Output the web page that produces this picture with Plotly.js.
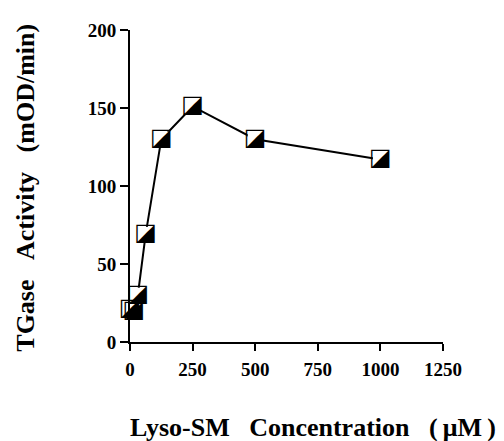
<!DOCTYPE html>
<html>
<head>
<meta charset="utf-8">
<script src="https://cdn.plot.ly/plotly-3.0.1.min.js"></script>
<style>html,body{margin:0;padding:0;background:#fff;}#chart{width:504px;height:441px;}</style>
</head>
<body>
<div id="chart"></div>
<script>
const concentration = [0, 15.6, 31.25, 62.5, 125, 250, 500, 1000];
const activity = [21, 20, 30, 69, 130, 151, 130, 117];
const xTicks = [0, 250, 500, 750, 1000, 1250];
const yTicks = [0, 50, 100, 150, 200];
const xTitle = 'Lyso-SM\u00a0\u00a0\u00a0Concentration\u00a0\u00a0\u00a0(\u2009\u03bcM\u2009)';
const yTitle = 'TGase\u00a0\u00a0\u00a0Activity\u00a0\u00a0\u00a0(mOD/min)';

const font = 'Liberation Serif';
const traces = [
  {
    x: concentration, y: activity, mode: 'lines+markers', type: 'scatter',
    line: {color: '#000', width: 2},
    marker: {symbol: 'square', size: 15, color: '#fff', line: {color: '#fff', width: 0}},
    cliponaxis: false, hoverinfo: 'none'
  },
  {
    x: concentration, y: activity, mode: 'text', type: 'scatter',
    text: concentration.map(() => '\u25ea'),
    textposition: 'middle center',
    textfont: {family: 'DejaVu Sans', size: 24, color: '#000'},
    cliponaxis: false, hoverinfo: 'none'
  }
];

const layout = {
  width: 504, height: 441,
  margin: {l: 130, r: 61, t: 30, b: 99},
  paper_bgcolor: '#fff', plot_bgcolor: '#fff',
  showlegend: false,
  font: {family: font, color: '#000'},
  xaxis: {
    range: [0, 1250], tickvals: xTicks, ticktext: xTicks.map(v => '<b>' + v + '</b>'),
    showgrid: false, zeroline: false, showline: true, linecolor: '#000', linewidth: 2,
    ticks: 'outside', ticklen: 7, tickwidth: 2, tickcolor: '#000',
    tickfont: {family: font, size: 19, color: '#000'},
    ticklabelstandoff: 2
  },
  yaxis: {
    range: [0, 200], tickvals: yTicks, ticktext: yTicks.map(v => '<b>' + v + '</b>'),
    showgrid: false, zeroline: false, showline: true, linecolor: '#000', linewidth: 2,
    ticks: 'outside', ticklen: 8, tickwidth: 2, tickcolor: '#000',
    tickfont: {family: font, size: 19, color: '#000'}
  },
  annotations: [
    {text: '<b>' + xTitle + '</b>', xref: 'paper', yref: 'paper', x: 0.585, y: -0.275, xanchor: 'center', yanchor: 'middle',
     showarrow: false, font: {family: font, size: 26, color: '#000'}},
    {text: '<b>' + yTitle + '</b>', xref: 'paper', yref: 'paper', x: -0.335, y: 0.495, xanchor: 'center', yanchor: 'middle',
     textangle: -90, showarrow: false, font: {family: font, size: 26, color: '#000'}}
  ]
};

Plotly.newPlot('chart', traces, layout, {staticPlot: true, displayModeBar: false});
</script>
</body>
</html>
